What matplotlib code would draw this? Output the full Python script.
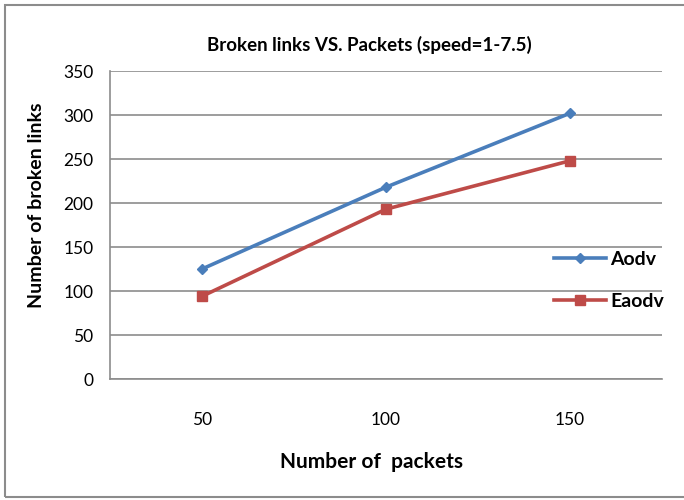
import matplotlib
matplotlib.use("Agg")
import matplotlib.pyplot as plt
from matplotlib.patches import Rectangle

categories = ["50", "100", "150"]
aodv = [125, 218, 302]
eaodv = [94, 193, 248]
yticks = [0, 50, 100, 150, 200, 250, 300, 350]

plt.rcParams['font.family'] = ['Lato', 'DejaVu Sans']

fig = plt.figure(figsize=(6.84, 5.0), dpi=100)
W, H = 684, 500
ax = fig.add_axes([110 / W, 1 - 379 / H, (662 - 110) / W, (379 - 71) / H])

x = list(range(len(categories)))
blue = "#4A7EBB"
red = "#BE4B48"
ax.plot(x, aodv, color=blue, lw=2.6, marker="D", ms=5.5, label="Aodv")
ax.plot(x, eaodv, color=red, lw=2.6, marker="s", ms=6.5, label="Eaodv")

ax.set_xlim(-0.5, len(categories) - 0.5)
ax.set_ylim(0, 350)
ax.set_yticks(yticks)
ax.set_xticks(x)
ax.set_xticklabels(categories)
ax.yaxis.grid(True, color="#8C8C8C", lw=1.2)
ax.set_axisbelow(True)
for s in ["top", "right"]:
    ax.spines[s].set_visible(False)
ax.spines["left"].set_color("#8C8C8C")
ax.spines["bottom"].set_color("#8C8C8C")
ax.spines["left"].set_linewidth(1.2)
ax.spines["bottom"].set_linewidth(1.2)
ax.tick_params(axis="both", length=0, labelsize=12.5)
ax.tick_params(axis="y", pad=12)
ax.tick_params(axis="x", pad=24)

fig.text(371 / W, 1 - 462 / H, "Number of  packets", ha="center", va="center",
         fontsize=15, fontweight="bold")
fig.text(37 / W, 1 - 205 / H, "Number of broken links", ha="center", va="center",
         rotation=90, fontsize=14, fontweight="bold")
fig.text(369 / W, 1 - 45 / H, "Broken links VS. Packets (speed=1-7.5)",
         ha="center", va="center", fontsize=13.5, fontweight="bold")

leg = ax.legend(loc="center left", bbox_to_anchor=(0.772, 0.32), frameon=False,
                prop={"weight": "bold", "size": 14},
                handlelength=2.7, labelspacing=1.3, handletextpad=0.2)

fig.patches.append(Rectangle((5 / W, 3 / H), 1.2, 1 - 8 / H, transform=fig.transFigure,
                             fill=False, edgecolor="#8C8C8C", lw=1.5))

fig.savefig("out.png", dpi=100)
